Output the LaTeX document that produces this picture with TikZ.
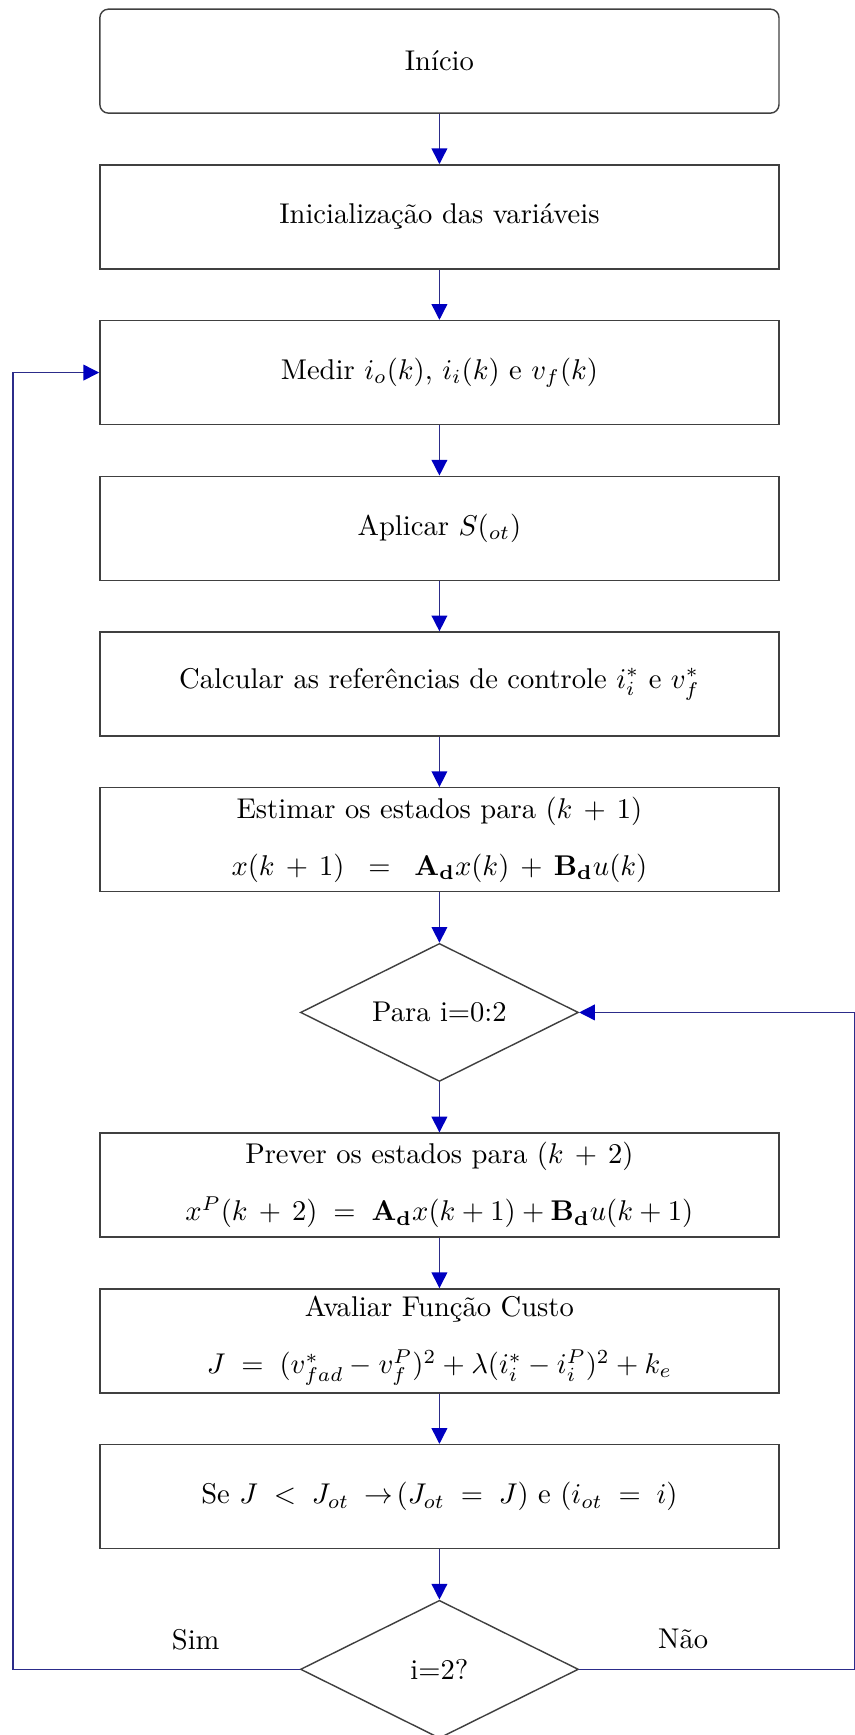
\documentclass[tikz,border=0pt]{standalone}
\usepackage{amsmath,amssymb}
\usepackage{tikz}
\usetikzlibrary{arrows.meta,positioning,calc,shapes.geometric}
\definecolor{FluxoAzul}{HTML}{2C2C8A}
\definecolor{PontaAzul}{HTML}{0000C0}

\begin{document}
\begin{tikzpicture}[
    node distance=17.6pt,
    caixa/.style={draw=black!75,line width=0.5pt,minimum width=237.7pt,
      minimum height=36.4pt,align=center,inner sep=2pt},
    inicio/.style={caixa,rounded corners=3pt},
    decisao/.style={draw=black!75,line width=0.5pt,diamond,aspect=2,
      inner sep=0pt,minimum width=97.3pt,minimum height=48.3pt},
    fluxo/.style={draw=FluxoAzul,line width=0.5pt,
      -{Triangle[length=5.5pt,width=5.5pt,color=PontaAzul]}}
  ]
  \useasboundingbox (0,0) rectangle (299.25pt,-607.25pt);

  % coluna principal
  \node[inicio] (ini) at (153.8pt,-21.4pt) {Início};
  \node[caixa,below=of ini] (vars) {Inicialização das variáveis};
  \node[caixa,below=of vars] (medir) {Medir $i_o(k)$, $i_i(k)$ e $v_f(k)$};
  \node[caixa,below=of medir] (aplicar) {Aplicar $S(_{ot})$};
  \node[caixa,below=of aplicar] (refs)
    {Calcular as referências de controle $i_i^*$ e $v_f^*$};
  \node[caixa,below=of refs] (estimar)
    {Estimar os estados para $(k\,+\,1)$\\[8pt]
     $x(k\,+\,1)\;\;=\;\;\mathbf{A_d}x(k)\,+\,\mathbf{B_d}u(k)$};
  \node[decisao,below=of estimar] (para) {Para i=0:2};
  \node[caixa,below=of para] (prever)
    {Prever os estados para $(k\,+\,2)$\\[8pt]
     $x^P(k\,+\,2)\;=\;\mathbf{A_d}x(k+1)+\mathbf{B_d}u(k+1)$};
  \node[caixa,below=of prever] (custo)
    {Avaliar Função Custo\\[8pt]
     $J\;=\;(v^*_{fad}-v^P_f)^2+\lambda(i^*_i-i^P_i)^2+k_e$};
  \node[caixa,below=of custo] (otimo)
    {Se $J\;<\;J_{ot}\;\rightarrow\!(J_{ot}\;=\;J)$ e $(i_{ot}\;=\;i)$};
  \node[decisao,below=of otimo] (fim) {i=2?};

  % bordas dos lacos
  \coordinate (esq) at (4.55pt,0);
  \coordinate (dir) at (299.25pt,0);

  \draw[fluxo] (ini) -- (vars);
  \draw[fluxo] (vars) -- (medir);
  \draw[fluxo] (medir) -- (aplicar);
  \draw[fluxo] (aplicar) -- (refs);
  \draw[fluxo] (refs) -- (estimar);
  \draw[fluxo] (estimar) -- (para);
  \draw[fluxo] (para) -- (prever);
  \draw[fluxo] (prever) -- (custo);
  \draw[fluxo] (custo) -- (otimo);
  \draw[fluxo] (otimo) -- (fim);

  \draw[fluxo] (fim.west) -- (fim.west -| esq) |- (medir.west);
  \draw[fluxo] (fim.east) -- (fim.east -| dir) |- (para.east);

  \node (sim) at ([shift={(-36.4pt,10.5pt)}]fim.west) {Sim};
  \node (nao) at ([shift={(36.4pt,10.5pt)}]fim.east) {Não};
\end{tikzpicture}
\end{document}
